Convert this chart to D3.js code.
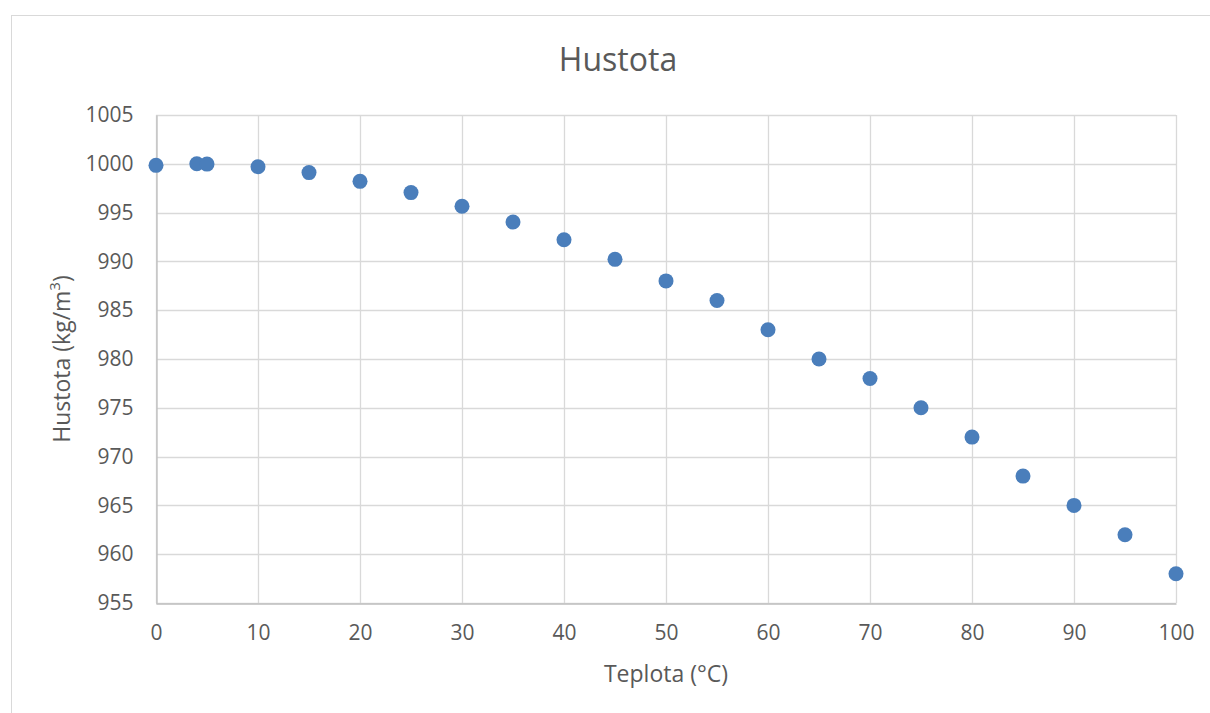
<!DOCTYPE html>
<html>
<head>
<meta charset="utf-8">
<script src="https://cdn.jsdelivr.net/npm/d3@7"></script>
<style>
    body { margin: 0; background: #fff; }
    text { font-family: "Open Sans", sans-serif; fill: #595959; }
</style>
</head>
<body>
<div id="chart"></div>
<script>
// Données : teplota (°C) et hustota vody (kg/m3)
var teplota = [0, 4, 5, 10, 15, 20, 25, 30, 35, 40, 45, 50, 55, 60, 65, 70, 75, 80, 85, 90, 95, 100];
var hustota = [999.84, 1000.0, 999.97, 999.7, 999.1, 998.2, 997.05, 995.65, 994.03, 992.22, 990.21,
    988.0, 986.0, 983.0, 980.0, 978.0, 975.0, 972.0, 968.0, 965.0, 962.0, 958.0];
var xTicks = [0, 10, 20, 30, 40, 50, 60, 70, 80, 90, 100];
var yTicks = [955, 960, 965, 970, 975, 980, 985, 990, 995, 1000, 1005];

var width = 1210,
    height = 713;

var plot = { left: 156, right: 1176, top: 115, bottom: 603 };

var svg = d3.select("#chart")
    .append("svg")
    .attr("width", width)
    .attr("height", height);

// cadre du graphique
svg.append("rect")
    .attr("x", 11.5)
    .attr("y", 15.5)
    .attr("width", 1300)
    .attr("height", 800)
    .attr("fill", "#fff")
    .attr("stroke", "#d9d9d9")
    .attr("stroke-width", 1);

var x = d3.scaleLinear().domain([0, 100]).range([plot.left, plot.right]);
var y = d3.scaleLinear().domain([955, 1005]).range([plot.bottom, plot.top]);

// grille
svg.append("g")
    .selectAll("line")
    .data(yTicks)
    .enter()
    .append("line")
    .attr("x1", plot.left)
    .attr("x2", plot.right)
    .attr("y1", function (d) { return Math.round(y(d)) + 0.5; })
    .attr("y2", function (d) { return Math.round(y(d)) + 0.5; })
    .attr("stroke", "#d9d9d9")
    .attr("stroke-width", 1.3);

svg.append("g")
    .selectAll("line")
    .data(xTicks)
    .enter()
    .append("line")
    .attr("x1", function (d) { return Math.round(x(d)) + 0.5; })
    .attr("x2", function (d) { return Math.round(x(d)) + 0.5; })
    .attr("y1", plot.top)
    .attr("y2", plot.bottom)
    .attr("stroke", "#d9d9d9")
    .attr("stroke-width", 1.3);

// axes
var xAxis = svg.append("g")
    .attr("transform", "translate(0," + (Math.round(y(955)) + 0.5) + ")")
    .call(d3.axisBottom(x).tickValues(xTicks).tickFormat(d3.format("d")).tickSize(0).tickPadding(22));
xAxis.select(".domain").attr("stroke", "#bfbfbf").attr("stroke-width", 1.3);
xAxis.selectAll("text").style("font-size", "21px").attr("fill", "#595959");

var yAxis = svg.append("g")
    .attr("transform", "translate(" + (Math.round(x(0)) + 0.5) + ",0)")
    .call(d3.axisLeft(y).tickValues(yTicks).tickFormat(d3.format("d")).tickSize(0).tickPadding(23));
yAxis.select(".domain").attr("stroke", "#bfbfbf").attr("stroke-width", 1.3);
yAxis.selectAll("text").style("font-size", "21px").attr("fill", "#595959");

// points
svg.append("g")
    .selectAll("circle")
    .data(teplota)
    .enter()
    .append("circle")
    .attr("cx", function (d) { return x(d); })
    .attr("cy", function (d, i) { return y(hustota[i]); })
    .attr("r", 7.5)
    .attr("fill", "#4a7ebb");

// titres
svg.append("text")
    .attr("x", 618)
    .attr("y", 71)
    .attr("text-anchor", "middle")
    .style("font-size", "32px")
    .text("Hustota");

svg.append("text")
    .attr("x", 666)
    .attr("y", 682)
    .attr("text-anchor", "middle")
    .style("font-size", "23px")
    .text("Teplota (°C)");

var yTitle = svg.append("text")
    .attr("transform", "translate(70,359) rotate(-90)")
    .attr("text-anchor", "middle")
    .style("font-size", "23px");
yTitle.append("tspan").text("Hustota (kg/m");
yTitle.append("tspan").attr("baseline-shift", "super").style("font-size", "15px").text("3");
yTitle.append("tspan").text(")");
</script>
</body>
</html>
